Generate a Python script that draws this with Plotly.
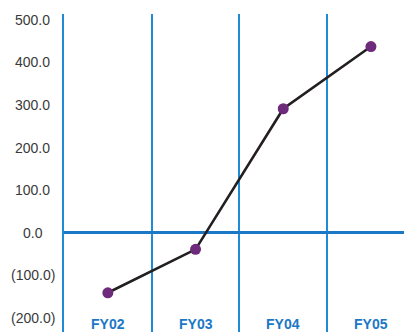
import plotly.graph_objects as go

categories = ["FY02", "FY03", "FY04", "FY05"]
values = [-141, -39, 291, 437]
y_tick_values = [500, 400, 300, 200, 100, 0, -100, -200]
y_tick_labels = ["500.0", "400.0", "300.0", "200.0", "100.0", "0.0", "(100.0)", "(200.0)"]

BLUE = "#1f8ad8"
ZBLUE = "#1b78c6"

fig = go.Figure()
fig.add_trace(go.Scatter(
    x=categories, y=values, mode="lines+markers",
    line=dict(color="#231f20", width=2.6),
    marker=dict(color="#6e2a7b", size=11),
    showlegend=False, hoverinfo="skip",
))

annotations = []
for v, t in zip(y_tick_values, y_tick_labels):
    annotations.append(dict(
        x=-0.0912, xref="paper", y=v, yref="y", text=t, showarrow=False,
        xanchor="center", yanchor="middle",
        font=dict(family="Liberation Sans, Arial, sans-serif", size=14, color="#3a3a3a"),
    ))
for c in categories:
    annotations.append(dict(
        x=c, xref="x", y=-215, yref="y", text="<b>" + c + "</b>", showarrow=False,
        xanchor="center", yanchor="middle",
        font=dict(family="Liberation Sans Narrow, Liberation Sans, Arial, sans-serif", size=14, color=ZBLUE),
    ))

fig.update_layout(
    template="none",
    width=404, height=332,
    margin=dict(l=64, r=0, t=14, b=0),
    paper_bgcolor="white", plot_bgcolor="white",
    annotations=annotations,
    xaxis=dict(
        type="category", categoryorder="array", categoryarray=categories,
        range=[-0.5, 3.377], tickson="boundaries",
        showgrid=True, gridcolor=BLUE, gridwidth=1.5,
        showticklabels=False, ticks="", showline=False, zeroline=False,
    ),
    yaxis=dict(
        range=[-233.1, 513.4], tickvals=y_tick_values,
        showticklabels=False, ticks="", showgrid=False,
        showline=True, linecolor=BLUE, linewidth=1.5,
        zeroline=True, zerolinecolor=ZBLUE, zerolinewidth=2.5,
    ),
)

fig.write_html("out.html")
